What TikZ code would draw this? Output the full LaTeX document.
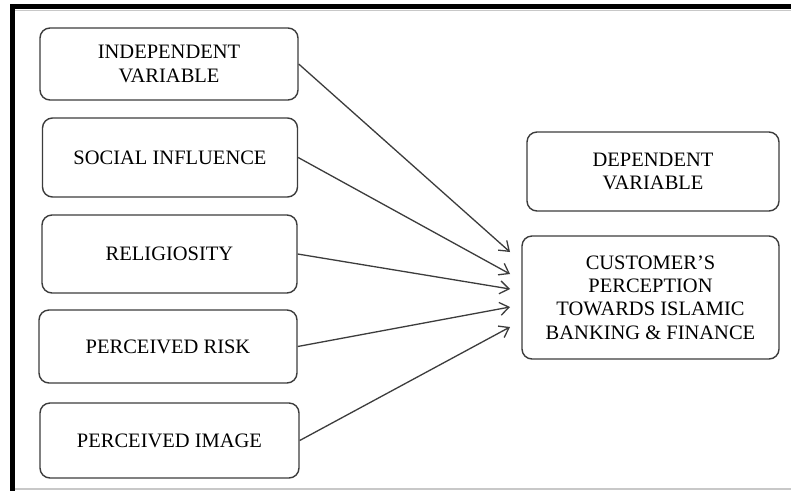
\documentclass[tikz,border=0pt]{standalone}
\usepackage{fontspec}
\setmainfont{Liberation Serif}
\usetikzlibrary{arrows.meta}
\definecolor{edge}{HTML}{3C3C3C}
\definecolor{rule}{HTML}{C8C8C8}
\begin{document}
\begin{tikzpicture}[x=1pt,y=-1pt,
  varbox/.style={draw=edge, line width=1.4pt, rounded corners=10pt,
    align=center, inner sep=0pt,
    font=\fontsize{20.5}{23.3}\selectfont},
  link/.style={draw=edge, line width=1.3pt,
    -{Straight Barb[length=9pt,width=13pt,line width=1.3pt]}}]
  \useasboundingbox (0,0) rectangle (791,491);
  % frame
  \fill[white] (0,0) rectangle (791,491);
  \fill[black] (10,4) rectangle (791,9);
  \fill[black] (10,4) rectangle (15,491);
  \draw[rule, line width=1pt] (15,10) -- (791,10);
  \draw[rule, line width=1.5pt] (15,489) -- (791,489);
  % independent side
  \node[varbox, minimum width=258pt, minimum height=72pt] (b1) at (169,64)
    {INDEPENDENT\\VARIABLE};
  \node[varbox, minimum width=255pt, minimum height=79pt] (b2) at (170,157.5)
    {SOCIAL INFLUENCE};
  \node[varbox, minimum width=255pt, minimum height=78pt] (b3) at (169.5,254)
    {RELIGIOSITY};
  \node[varbox, minimum width=258pt, minimum height=73pt] (b4) at (168,346.5)
    {PERCEIVED RISK};
  \node[varbox, minimum width=259pt, minimum height=75pt] (b5) at (169.5,440.5)
    {PERCEIVED IMAGE};
  % dependent side
  \node[varbox, minimum width=252pt, minimum height=79pt] (d1) at (653,171.5)
    {DEPENDENT\\VARIABLE};
  \node[varbox, minimum width=257pt, minimum height=123pt] (d2) at (650.5,297.5)
    {CUSTOMER’S\\PERCEPTION\\TOWARDS ISLAMIC\\BANKING \& FINANCE};
  % arrow targets
  \coordinate (t1) at (510,252);
  \coordinate (t2) at (510,274);
  \coordinate (t3) at (510,289);
  \coordinate (t4) at (510,307);
  \coordinate (t5) at (510,327);
  \draw[link] (b1.east) -- (t1);
  \draw[link] (b2.east) -- (t2);
  \draw[link] (b3.east) -- (t3);
  \draw[link] (b4.east) -- (t4);
  \draw[link] (b5.east) -- (t5);
\end{tikzpicture}
\end{document}
